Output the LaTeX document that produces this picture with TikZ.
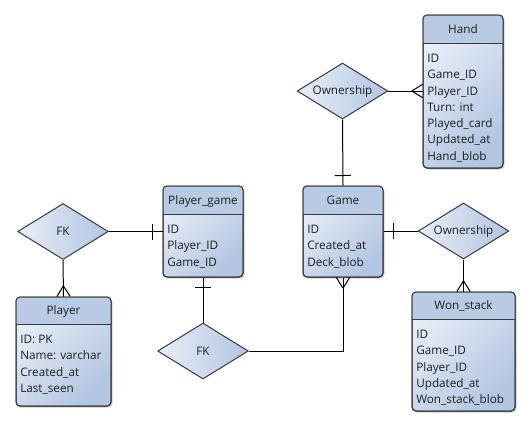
\documentclass[tikz,border=0pt]{standalone}
\usepackage{fontspec}
\setmainfont{Open Sans}
\usetikzlibrary{shapes.geometric,fit,decorations.markings}
\definecolor{lightc}{HTML}{E8EEF8}
\definecolor{darkc}{HTML}{B2C5E1}
\definecolor{headc}{HTML}{B8CAE4}
\definecolor{bordc}{HTML}{3A3A3A}
\definecolor{shadc}{HTML}{CFCFCF}
\definecolor{txtc}{HTML}{1E1E1E}
\newcommand\erfont{\fontsize{8.8pt}{12.2pt}\selectfont}
\tikzset{
  ebox/.style={rectangle, rounded corners=3pt, inner sep=0pt, draw=bordc, line width=0.75pt,
    top color=lightc, bottom color=darkc, shading angle=45},
  etitle/.style={inner sep=0pt, anchor=base, font=\erfont, text=txtc},
  eattr/.style={inner sep=0pt, anchor=north west, align=left, font=\erfont, text=txtc},
  rel/.style={diamond, draw=bordc, line width=0.75pt, inner sep=0pt, aspect=1.6,
    minimum width=68pt, minimum height=42pt, left color=lightc, right color=darkc,
    font=\erfont, text=txtc},
  conn/.style={draw=black, line width=0.75pt},
  manyend/.style={postaction={decorate, decoration={markings,
    mark=at position 1 with {\draw[black, line width=0.75pt] (-8pt,0pt) -- (0pt,5pt) (-8pt,0pt) -- (0pt,-5pt);}}}},
  oneend/.style={postaction={decorate, decoration={markings,
    mark=at position -7.5pt with {\draw[black, line width=0.75pt] (0pt,-6pt) -- (0pt,6pt);}}}},
}
\newcommand\entity[8]{%
  \fill[shadc, rounded corners=3pt] (#2+1.5,#3+1.5) rectangle (#4+1.5,#5+1.5);
  \node[ebox, fit={(#2,#3) (#4,#5)}] (#1) {};
  \begin{scope}
    \clip[rounded corners=3pt] (#2,#3) rectangle (#4,#5);
    \fill[headc] (#2,#3) rectangle (#4,#6);
  \end{scope}
  \draw[bordc, line width=0.75pt] (#2,#6) -- (#4,#6);
  \draw[bordc, line width=0.75pt, rounded corners=3pt] (#2,#3) rectangle (#4,#5);
  \node[etitle] (#1-title) at ({(#2+#4)/2},{(#3+#6)/2+4.2}) {#7};
  \node[eattr] (#1-attrs) at (#2+4,#6+11) {#8};
}
\begin{document}
\begin{tikzpicture}[x=0.75pt, y=-0.75pt]
\fill[white] (0,0) rectangle (530,426);
\useasboundingbox (0,0) rectangle (530,426);

\entity{hand}{423}{15}{503}{168}{43}{Hand}{ID\\Game\_ID\\Player\_ID\\Turn: int\\Played\_card\\Updated\_at\\Hand\_blob}
\entity{game}{303}{186}{383}{277}{214}{Game}{ID\\Created\_at\\Deck\_blob}
\entity{pg}{163}{186}{243}{277}{214}{Player\_game}{ID\\Player\_ID\\Game\_ID}
\entity{player}{16}{297}{111}{406}{324}{Player}{ID: PK\\Name: varchar\\Created\_at\\Last\_seen}
\entity{won}{412}{292}{515}{411}{319}{Won\_stack}{ID\\Game\_ID\\Player\_ID\\Updated\_at\\Won\_stack\_blob}

\node[rel] (own1) at (342.5,91) {Ownership};
\node[rel] (own2) at (463.5,231) {Ownership};
\node[rel] (fk1) at (63,231.5) {FK};
\node[rel] (fk2) at (203,351) {FK};

\draw[conn, manyend] (own1.east) -- (own1.east -| hand.west);
\draw[conn, oneend] (own1.south) -- (game.north);
\draw[conn, oneend] (own2.west) -- (own2.west -| game.east);
\draw[conn, manyend] (own2.south) -- (won.north);
\draw[conn, manyend] (fk2.east) -| (game.south);
\draw[conn, oneend] (fk2.north) -- (pg.south);
\draw[conn, oneend] (fk1.east) -- (fk1.east -| pg.west);
\draw[conn, manyend] (fk1.south) -- (player.north);
\end{tikzpicture}
\end{document}
